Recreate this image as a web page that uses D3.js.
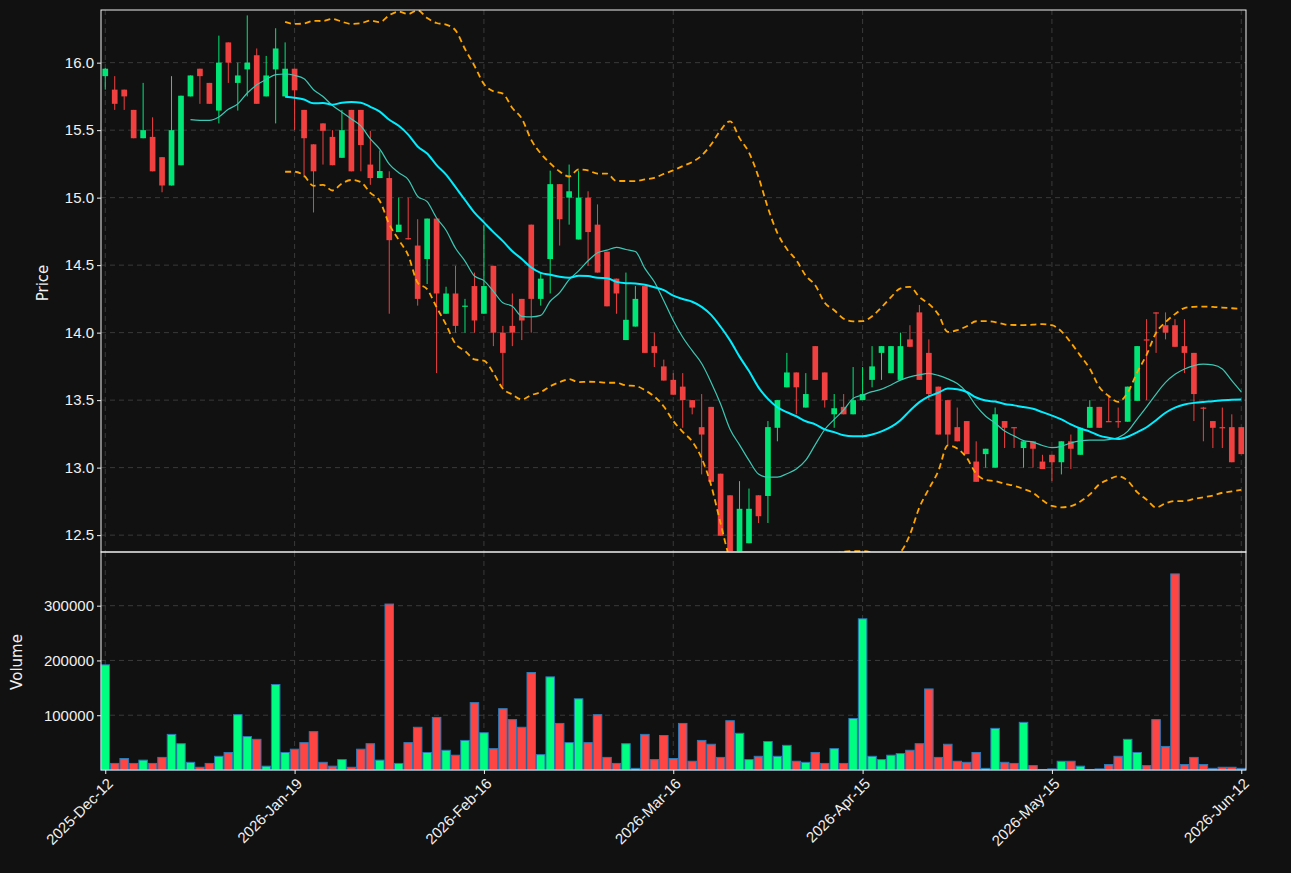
<!DOCTYPE html>
<html><head><meta charset="utf-8">
<script src="https://cdn.jsdelivr.net/npm/d3@7/dist/d3.min.js"></script>
<style>body{margin:0;background:#111111;}svg{display:block;font-family:"DejaVu Sans",sans-serif;}</style>
</head><body><svg id="c" width="1291" height="873"></svg>
<script>
const opens=[15.90,15.80,15.80,15.65,15.44,15.45,15.30,15.09,15.24,15.75,15.955,15.85,15.645,16.15,15.85,15.95,16.055,15.75,15.95,15.75,
15.955,15.65,15.395,15.55,15.45,15.295,15.65,15.65,15.245,15.145,15.145,14.745,14.70,14.645,14.545,14.845,14.14,14.29,14.20,14.345,
14.14,14.495,14.0,14.05,14.25,14.80,14.25,14.545,15.10,15.0,14.69,15.0,14.80,14.60,14.40,13.945,14.045,14.345,13.90,13.75,
13.65,13.60,13.50,13.30,13.45,12.955,12.795,12.38,12.44,12.795,12.79,13.295,13.595,13.705,13.445,13.90,13.705,13.395,13.45,13.395,
13.50,13.65,13.85,13.70,13.65,13.95,14.15,13.85,13.60,13.50,13.30,13.345,13.045,13.10,13.0,13.345,13.30,13.145,13.195,13.045,
13.095,13.04,13.195,13.095,13.295,13.45,13.345,13.345,13.34,13.495,13.95,14.15,14.055,14.055,13.90,13.85,13.445,13.345,13.30,13.30,13.30];
const closes=[15.955,15.695,15.75,15.44,15.50,15.195,15.09,15.50,15.755,15.905,15.90,15.695,16.0,16.0,15.905,16.0,15.695,15.905,16.105,15.955,
15.795,15.44,15.195,15.495,15.24,15.50,15.195,15.39,15.145,15.197,14.685,14.80,14.695,14.25,14.845,14.29,14.29,14.05,14.20,14.09,
14.345,14.0,13.85,14.0,14.09,14.25,14.40,15.10,14.84,15.047,15.0,14.745,14.445,14.195,14.29,14.095,14.25,13.85,13.85,13.645,
13.54,13.50,13.445,13.245,12.895,12.495,12.38,12.695,12.695,12.64,13.30,13.50,13.705,13.595,13.545,13.65,13.50,13.44,13.395,13.50,
13.545,13.75,13.90,13.90,13.90,13.895,13.65,13.545,13.245,13.245,13.195,13.10,12.895,13.14,13.395,13.295,13.295,13.195,13.14,12.99,
13.04,13.195,13.14,13.295,13.45,13.295,13.34,13.34,13.60,13.90,13.945,14.145,14.0,13.895,13.85,13.545,13.44,13.295,13.295,13.04,13.10];
const highs=[15.96,15.90,15.80,15.65,15.85,15.595,15.30,15.90,15.755,15.905,15.955,15.85,16.20,16.15,16.0,16.35,16.105,16.05,16.255,16.15,
15.955,15.65,15.395,15.55,15.50,15.65,15.65,15.65,15.495,15.35,15.195,15.0,15.0,14.84,14.845,14.845,14.34,14.495,14.25,14.445,
14.80,14.495,14.05,14.29,14.25,14.80,14.445,15.20,15.10,15.245,15.20,15.047,14.95,14.60,14.40,14.445,14.345,14.345,14.0,13.80,
13.70,13.70,13.50,13.545,13.45,12.955,12.795,12.90,12.845,12.795,13.345,13.50,13.85,13.705,13.70,13.90,13.705,13.545,13.545,13.745,
13.745,13.90,13.90,13.90,14.0,14.055,14.205,13.95,13.60,13.50,13.445,13.345,13.195,13.14,13.445,13.345,13.30,13.195,13.195,13.095,
13.095,13.195,13.245,13.295,13.50,13.45,13.54,13.445,13.60,13.90,14.10,14.15,14.15,14.10,14.10,13.85,13.45,13.345,13.445,13.395,13.30];
const lows=[15.80,15.65,15.65,15.44,15.44,15.195,15.04,15.09,15.24,15.75,15.695,15.695,15.55,15.85,15.645,15.75,15.695,15.75,15.55,15.75,
15.50,15.15,14.89,15.245,15.24,15.295,15.195,15.195,15.095,15.145,14.14,14.745,14.69,14.20,14.36,13.70,14.14,14.0,14.0,14.0,
14.14,13.90,13.60,13.90,13.945,14.0,14.20,14.29,14.645,14.80,14.69,14.495,14.445,14.195,14.14,13.945,14.045,13.85,13.745,13.645,
13.54,13.295,13.395,12.95,12.895,12.495,12.38,12.38,12.44,12.59,12.59,13.195,13.595,13.395,13.445,13.65,13.445,13.295,13.395,13.395,
13.50,13.595,13.65,13.70,13.65,13.895,13.65,13.50,13.245,13.17,13.195,13.10,12.895,13.0,13.0,13.145,13.145,13.0,13.0,12.99,
12.90,12.95,12.99,13.095,13.295,13.295,13.34,13.295,13.34,13.495,13.50,13.85,13.95,13.895,13.70,13.345,13.195,13.145,13.145,13.04,13.10];
const volumes=[192000,12000,21000,12000,18000,12000,23000,65000,48000,14000,5000,12000,25000,32000,101000,61000,56000,7000,156000,32000,
38000,50000,70000,14000,7000,19000,5000,38000,48000,18000,303000,12000,50000,78000,32000,96000,36000,27000,54000,123000,
68000,39000,112000,92000,78000,178000,28000,170000,85000,50000,130000,50000,101000,23000,12000,48000,3000,65000,19000,63000,
21000,85000,16000,54000,47000,23000,90000,67000,19000,25000,52000,25000,45000,16000,14000,32000,12000,39000,12000,94000,
276000,25000,19000,27000,30000,36000,48000,148000,23000,47000,16000,14000,32000,3000,76000,14000,12000,87000,8000,1000,
2000,16000,16000,7000,1000,2000,10000,25000,56000,32000,8000,92000,43000,358000,10000,23000,10000,3000,5000,5000,3000];
const tickIdx=[0,20,40,60,80,100,120];
const tickLabels=["2025-Dec-12","2026-Jan-19","2026-Feb-16","2026-Mar-16","2026-Apr-15","2026-May-15","2026-Jun-12"];
const priceTicks=[12.5,13.0,13.5,14.0,14.5,15.0,15.5,16.0];
const volTicks=[100000,200000,300000];

const svg=d3.select("#c");
const L=101,R=1246,PT=10,PB=552,VT=552,VB=770;
const x=d3.scaleLinear().domain([-0.45,120.5]).range([L,R]);
const yp=d3.scaleLinear().domain([12.375,16.39]).range([PB,PT]);
const yv=d3.scaleLinear().domain([0,398000]).range([VB,VT]);
const UP="#00e676",DN="#f04040",VUP="#00ff80",VDN="#ff4444";
svg.append("rect").attr("width",1291).attr("height",873).attr("fill","#111111");
const defs=svg.append("defs");
defs.append("clipPath").attr("id","cp").append("rect").attr("x",L).attr("y",PT).attr("width",R-L).attr("height",PB-PT);
const gridC="#3a3a3a";
[[PT,PB],[VT,VB]].forEach(([t,b])=>{
  svg.append("g").selectAll("line").data(tickIdx).join("line").attr("x1",d=>x(d)).attr("x2",d=>x(d)).attr("y1",t).attr("y2",b)
   .attr("stroke",gridC).attr("stroke-dasharray","5,4").attr("stroke-width",1);
});
svg.append("g").selectAll("line").data(priceTicks).join("line").attr("x1",L).attr("x2",R).attr("y1",d=>yp(d)).attr("y2",d=>yp(d))
 .attr("stroke",gridC).attr("stroke-dasharray","5,4");
svg.append("g").selectAll("line").data(volTicks).join("line").attr("x1",L).attr("x2",R).attr("y1",d=>yv(d)).attr("y2",d=>yv(d))
 .attr("stroke",gridC).attr("stroke-dasharray","5,4");

const idx=d3.range(closes.length);
function sma(n){return idx.map(i=>i<n-1?null:d3.mean(closes.slice(i-n+1,i+1)));}
const ma10=sma(10),ma20=sma(20);
const sd20=idx.map(i=>i<19?null:d3.deviation(closes.slice(i-19,i+1)));
const up=idx.map(i=>ma20[i]==null?null:ma20[i]+2*sd20[i]);
const lo=idx.map(i=>ma20[i]==null?null:ma20[i]-2*sd20[i]);
function line(arr){return d3.line().defined(i=>arr[i]!=null).x(i=>x(i)).y(i=>yp(arr[i])).curve(d3.curveMonotoneX)(idx);}

const bw=(x(1)-x(0))*0.6;
const gc=svg.append("g").attr("clip-path","url(#cp)");
gc.selectAll("line").data(idx).join("line").attr("x1",i=>x(i)).attr("x2",i=>x(i)).attr("y1",i=>yp(highs[i])).attr("y2",i=>yp(lows[i]))
 .attr("stroke",i=>closes[i]>=opens[i]?UP:DN).attr("stroke-width",1);
gc.selectAll("rect").data(idx).join("rect").attr("x",i=>x(i)-bw/2).attr("width",bw)
 .attr("y",i=>yp(Math.max(opens[i],closes[i]))).attr("height",i=>Math.max(1.2,Math.abs(yp(opens[i])-yp(closes[i]))))
 .attr("fill",i=>closes[i]>=opens[i]?UP:DN);
const gm=svg.append("g").attr("clip-path","url(#cp)");
gm.append("path").attr("d",line(ma10)).attr("fill","none").attr("stroke","#3cc8b4").attr("stroke-width",1.2);
gm.append("path").attr("d",line(ma20)).attr("fill","none").attr("stroke","#00eeff").attr("stroke-width",2);
gm.append("path").attr("d",line(up)).attr("fill","none").attr("stroke","#ffa500").attr("stroke-width",1.8).attr("stroke-dasharray","6,4");
gm.append("path").attr("d",line(lo)).attr("fill","none").attr("stroke","#ffa500").attr("stroke-width",1.8).attr("stroke-dasharray","6,4");

const vw=(x(1)-x(0))*0.9;
svg.append("g").selectAll("rect").data(idx).join("rect").attr("x",i=>x(i)-vw/2).attr("width",vw)
 .attr("y",i=>yv(volumes[i])).attr("height",i=>yv(0)-yv(volumes[i]))
 .attr("fill",i=>closes[i]>=opens[i]?VUP:VDN).attr("stroke","#2a7ab8").attr("stroke-width",1);

svg.append("rect").attr("x",L).attr("y",PT).attr("width",R-L).attr("height",PB-PT).attr("fill","none").attr("stroke","#f0f0f0").attr("stroke-width",1);
svg.append("rect").attr("x",L).attr("y",VT).attr("width",R-L).attr("height",VB-VT).attr("fill","none").attr("stroke","#f0f0f0").attr("stroke-width",1);

const ax=svg.append("g").attr("transform",`translate(${L},0)`).call(d3.axisLeft(yp).tickValues(priceTicks).tickFormat(d3.format(".1f")).tickSize(4));
const av=svg.append("g").attr("transform",`translate(${L},0)`).call(d3.axisLeft(yv).tickValues(volTicks).tickFormat(d3.format("d")).tickSize(4));
const axb=svg.append("g").attr("transform",`translate(0,${VB})`).call(d3.axisBottom(x).tickValues(tickIdx).tickFormat((d,i)=>tickLabels[i]).tickSize(4));
[ax,av,axb].forEach(g=>{g.select(".domain").remove();g.selectAll("line").attr("stroke","#f0f0f0");
 g.selectAll("text").attr("fill","#f0f0f0").attr("font-size",15);});
axb.selectAll("text").attr("text-anchor","end").attr("transform","rotate(-45)").attr("dx","-0.3em").attr("dy","0.6em");
svg.append("text").attr("transform","translate(48,283) rotate(-90)").attr("text-anchor","middle").attr("fill","#f0f0f0").attr("font-size",15).text("Price");
svg.append("text").attr("transform","translate(22,662) rotate(-90)").attr("text-anchor","middle").attr("fill","#f0f0f0").attr("font-size",15).text("Volume");
</script></body></html>
